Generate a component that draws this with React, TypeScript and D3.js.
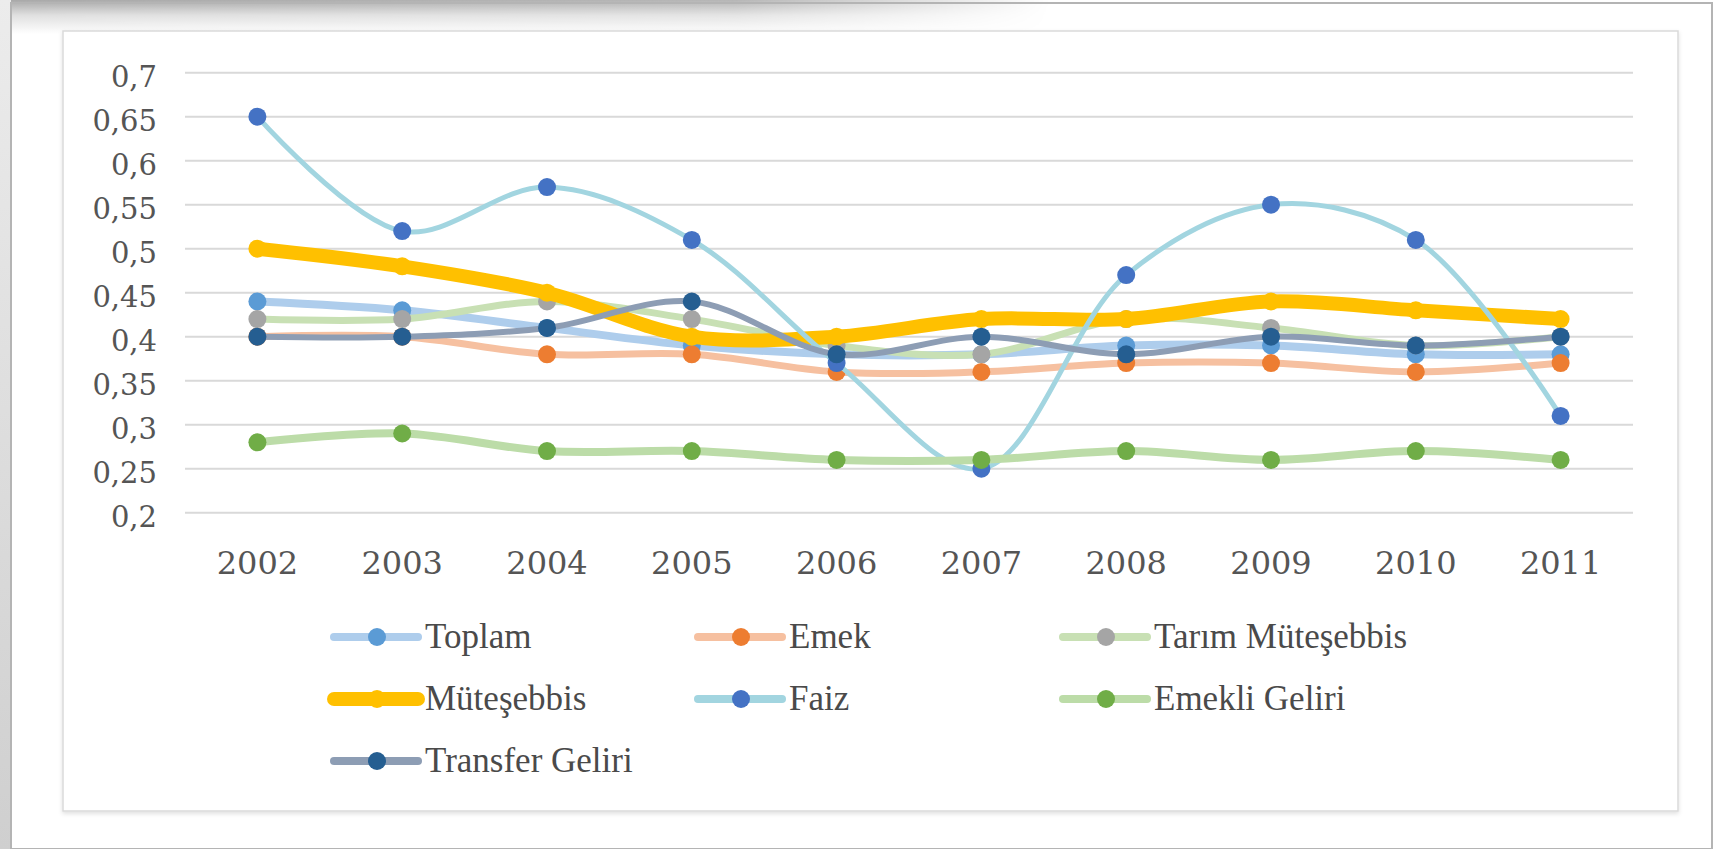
import * as d3 from 'd3';
import { useEffect } from 'react';

const years = ['2002', '2003', '2004', '2005', '2006', '2007', '2008', '2009', '2010', '2011'];
const yTicks = [0.2, 0.25, 0.3, 0.35, 0.4, 0.45, 0.5, 0.55, 0.6, 0.65, 0.7];

const toplam = [0.44, 0.43, 0.41, 0.39, 0.38, 0.38, 0.39, 0.39, 0.38, 0.38];
const emek = [0.40, 0.40, 0.38, 0.38, 0.36, 0.36, 0.37, 0.37, 0.36, 0.37];
const tarimMutesebbis = [0.42, 0.42, 0.44, 0.42, 0.39, 0.38, 0.42, 0.41, 0.39, 0.40];
const mutesebbis = [0.50, 0.48, 0.45, 0.40, 0.40, 0.42, 0.42, 0.44, 0.43, 0.42];
const faiz = [0.65, 0.52, 0.57, 0.51, 0.37, 0.25, 0.47, 0.55, 0.51, 0.31];
const emekliGeliri = [0.28, 0.29, 0.27, 0.27, 0.26, 0.26, 0.27, 0.26, 0.27, 0.26];
const transferGeliri = [0.40, 0.40, 0.41, 0.44, 0.38, 0.40, 0.38, 0.40, 0.39, 0.40];

const seriesNames = ['Toplam', 'Emek', 'Tarım Müteşebbis', 'Müteşebbis', 'Faiz', 'Emekli Geliri', 'Transfer Geliri'];
const seriesValues = [toplam, emek, tarimMutesebbis, mutesebbis, faiz, emekliGeliri, transferGeliri];

// line colour, marker colour, line width
const styles = [
  { line: '#aecdec', dot: '#5b9bd5', w: 8 },
  { line: '#f6c0a0', dot: '#ed7d31', w: 7 },
  { line: '#c8e0b4', dot: '#a5a5a5', w: 7 },
  { line: '#ffc000', dot: '#ffc000', w: 14 },
  { line: '#a2d5e0', dot: '#4472c4', w: 5 },
  { line: '#bcdca8', dot: '#70ad47', w: 8 },
  { line: '#8d9db4', dot: '#255e91', w: 6 },
];

const W = 1729;
const H = 849;

export default function App() {
  useEffect(() => {
    document.body.style.margin = '0';
  }, []);

  const x = d3.scaleBand().domain(years).range([185, 1633]);
  const y = d3.scaleLinear().domain([0.2, 0.7]).range([512.7, 72.7]);
  const fmt = (v: number) => d3.format('.2~f')(v).replace('.', ',');

  const line = d3
    .line<number>()
    .x((_, i) => x(years[i])! + x.bandwidth() / 2)
    .y((d) => y(d))
    .curve(d3.curveCatmullRom.alpha(0.5));

  const legendCols = [377, 741, 1106];
  const legendRows = [637, 699, 761];

  return (
    <svg width={W} height={H} style={{ display: 'block' }}>
      <defs>
        <linearGradient id="topShade" x1="0" y1="0" x2="0" y2="1">
          <stop offset="0%" stopColor="#a8a8a8" />
          <stop offset="45%" stopColor="#e0e0e0" />
          <stop offset="100%" stopColor="#ffffff" />
        </linearGradient>
        <linearGradient id="fadeX" x1="0" y1="0" x2="1" y2="0">
          <stop offset="0%" stopColor="#fff" stopOpacity="1" />
          <stop offset="70%" stopColor="#fff" stopOpacity="0.85" />
          <stop offset="100%" stopColor="#fff" stopOpacity="0" />
        </linearGradient>
        <mask id="topMask">
          <rect x={0} y={0} width={1050} height={34} fill="url(#fadeX)" />
        </mask>
        <linearGradient id="leftShade" x1="0" y1="0" x2="0" y2="1">
          <stop offset="0%" stopColor="#ececec" />
          <stop offset="100%" stopColor="#cfcfcf" />
        </linearGradient>
        <filter id="boxShadow" x="-2%" y="-2%" width="104%" height="106%">
          <feDropShadow dx="0" dy="2" stdDeviation="2" floodColor="#000" floodOpacity="0.12" />
        </filter>
      </defs>

      <rect x={0} y={0} width={W} height={H} fill="#fff" />
      <rect x={0} y={0} width={1050} height={34} fill="url(#topShade)" mask="url(#topMask)" />
      <rect x={0} y={0} width={11} height={H} fill="url(#leftShade)" />
      <rect x={11} y={3} width={1701} height={846} fill="none" stroke="#b4b4b4" strokeWidth={2} />

      <rect x={63} y={31} width={1615} height={780} fill="#fff" stroke="#dadada" strokeWidth={1.5} filter="url(#boxShadow)" />

      {yTicks.map((t) => (
        <g key={t}>
          <line x1={185} x2={1633} y1={y(t)} y2={y(t)} stroke="#d9d9d9" strokeWidth={2} />
          <text
            x={157}
            y={y(t) + 6}
            textAnchor="end"
            dominantBaseline="middle"
            fontFamily="'DejaVu Serif', serif"
            fontSize={29}
            fill="#555"
          >
            {fmt(t)}
          </text>
        </g>
      ))}

      {years.map((yr) => (
        <text
          key={yr}
          x={x(yr)! + x.bandwidth() / 2}
          y={574}
          textAnchor="middle"
          fontFamily="'DejaVu Serif', serif"
          fontSize={32}
          fill="#555"
        >
          {yr}
        </text>
      ))}

      {seriesValues.map((vals, si) => (
        <g key={seriesNames[si]}>
          <path d={line(vals) ?? ''} fill="none" stroke={styles[si].line} strokeWidth={styles[si].w} strokeLinecap="round" strokeLinejoin="round" />
          {vals.map((v, i) => (
            <circle key={i} cx={x(years[i])! + x.bandwidth() / 2} cy={y(v)} r={9} fill={styles[si].dot} />
          ))}
        </g>
      ))}

      {seriesNames.map((name, si) => {
        const cx = legendCols[si % 3];
        const cy = legendRows[Math.floor(si / 3)];
        return (
          <g key={name}>
            <line x1={cx - 43} x2={cx + 41} y1={cy} y2={cy} stroke={styles[si].line} strokeWidth={si === 3 ? 14 : 8} strokeLinecap="round" />
            <circle cx={cx} cy={cy} r={9} fill={styles[si].dot} />
            <text x={cx + 48} y={cy + 11} fontFamily="'Liberation Serif', serif" fontSize={35} fill="#4a4a4a">
              {name}
            </text>
          </g>
        );
      })}
    </svg>
  );
}
